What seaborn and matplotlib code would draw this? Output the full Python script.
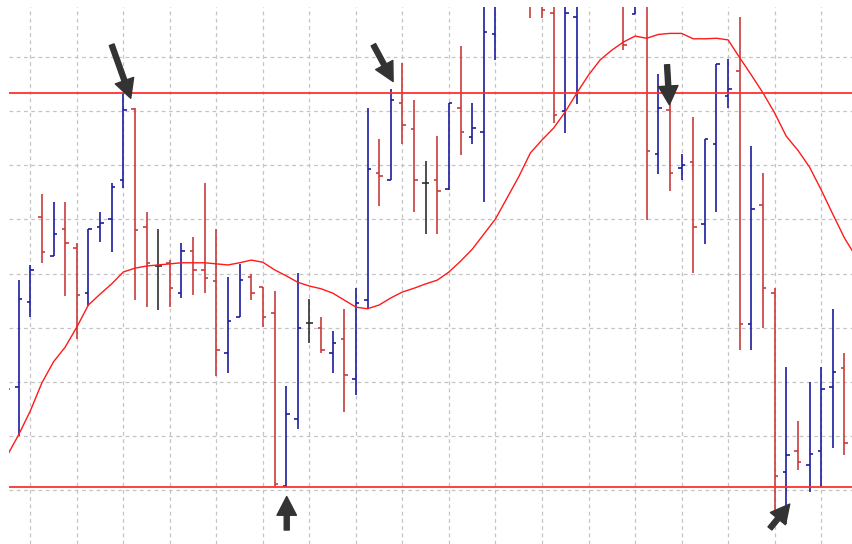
import matplotlib
matplotlib.use('Agg')
import numpy as np
import pandas as pd
import matplotlib.pyplot as plt
import seaborn as sns

sns.set_theme(style='white')

# OHLC bars (price units, one value per bar)
opens = [120.7, 119.1, 134.7, 150.5, 143.3, 148.2, 144.7, 136.5, 148.7, 150.0,
         157.3, 170.5, 148.7, 141.4, 142.0, 136.5, 144.2, 140.7, 138.7, 125.3,
         132.0, 139.3, 137.5, 132.7, 100.7, 113.1, 130.8, 129.9, 125.3, 128.0,
         120.5, 135.2, 158.6, 157.3, 171.5, 166.7, 156.7, 157.3, 155.6, 170.7,
         165.3, 166.1, 184.2, 192.5, 195.0, 193.0, 192.0, 188.1, 170.1, 187.4,
         196.0, 192.0, 197.0, 194.0, 188.0, 191.0, 162.1, 170.2, 159.5, 160.7,
         149.2, 164.0, 172.8, 177.4, 130.7, 152.7, 136.5, 103.3, 107.3, 104.6,
         107.3, 119.1, 122.6, 107.8]
highs = [121.8, 138.8, 141.6, 154.7, 153.3, 153.3, 145.6, 148.2, 151.4, 156.8,
         173.4, 170.7, 151.4, 148.2, 142.5, 145.6, 146.8, 156.8, 148.2, 139.4,
         141.8, 139.9, 137.5, 136.7, 119.2, 140.2, 135.3, 132.0, 129.4, 133.4,
         137.4, 170.7, 164.8, 174.2, 178.9, 172.1, 160.8, 165.4, 171.5, 182.1,
         171.5, 191.0, 193.0, 197.0, 198.0, 195.0, 194.0, 190.5, 191.0, 193.0,
         198.0, 199.0, 200.0, 196.0, 193.0, 193.0, 176.9, 171.5, 162.1, 168.9,
         164.8, 178.8, 179.6, 187.4, 163.6, 158.6, 137.4, 122.7, 112.8, 119.9,
         122.7, 133.4, 125.4, 110.0]
lows = [117.0, 110.0, 132.0, 141.9, 143.3, 135.9, 127.9, 134.0, 145.9, 144.0,
        155.8, 135.2, 133.8, 133.3, 133.8, 135.4, 136.0, 136.5, 121.1, 121.7,
        131.9, 135.1, 130.2, 100.6, 100.6, 111.2, 127.1, 125.3, 121.7, 114.5,
        117.6, 133.4, 152.5, 157.3, 164.0, 151.3, 147.3, 147.3, 155.5, 161.9,
        163.9, 153.2, 179.5, 190.5, 191.0, 187.2, 187.2, 167.9, 166.0, 171.3,
        191.0, 191.0, 192.0, 181.3, 188.0, 149.9, 158.5, 155.3, 157.3, 140.1,
        145.4, 151.3, 170.6, 125.8, 125.8, 129.9, 96.3, 93.8, 103.7, 99.7,
        100.6, 107.7, 106.5, 105.0]
closes = [118.7, 135.3, 140.7, 144.0, 147.4, 145.6, 136.0, 148.2, 149.3, 156.0,
          170.2, 148.1, 142.0, 141.4, 137.4, 144.2, 140.7, 139.1, 125.9, 131.2,
          138.8, 136.5, 131.9, 101.1, 114.0, 129.9, 130.8, 125.9, 127.2, 121.3,
          134.6, 159.3, 158.0, 172.1, 167.5, 157.3, 156.7, 155.3, 171.5, 166.1,
          166.9, 184.6, 191.5, 195.0, 193.0, 190.0, 188.7, 169.4, 188.1, 191.0,
          192.0, 197.0, 193.0, 182.3, 191.0, 162.7, 170.7, 158.6, 160.1, 148.7,
          164.8, 178.8, 174.1, 130.7, 151.9, 137.4, 102.5, 106.5, 105.2, 106.6,
          118.6, 121.8, 108.7, 109.0]

# moving average
ma = [106.3, 110.2, 114.6, 119.8, 123.7, 126.4, 130.1, 134.2, 136.2, 138.1,
      140.3, 141.0, 141.4, 141.6, 141.8, 142.0, 142.0, 142.0, 141.8, 141.6,
      142.0, 142.5, 142.1, 140.7, 139.6, 138.4, 137.7, 137.2, 136.4, 135.1,
      133.8, 133.5, 134.2, 135.5, 136.6, 137.3, 138.1, 138.8, 140.3, 142.3,
      144.5, 147.3, 150.1, 154.0, 157.9, 162.3, 164.7, 166.9, 169.9, 173.4,
      176.7, 179.5, 181.3, 182.8, 183.9, 183.5, 184.2, 184.4, 184.4, 183.4,
      183.4, 183.5, 183.2, 179.9, 176.7, 173.4, 169.7, 165.4, 162.8, 159.7,
      155.5, 151.0, 146.6, 143.1]

resistance = 173.4
support = 100.6

# arrows (bar, price): tail -> tip
arrow_tails = [(9.0, 182.3), (31.5, 182.3), (56.75, 178.6), (24.05, 92.6), (65.6, 92.9)]
arrow_tips = [(10.64, 172.4), (33.2, 175.5), (56.95, 171.2), (24.05, 98.8), (67.3, 97.4)]

df = pd.DataFrame({'open': opens, 'high': highs, 'low': lows,
                   'close': closes, 'ma': ma})
df['bar'] = np.arange(len(df))
df['color'] = np.select([df.close > df.open, df.close < df.open],
                        ['#1c1ca0', '#c83c3c'], '#303030')

fig = plt.figure(figsize=(8.53, 5.44), dpi=100)
ax = fig.add_axes([9 / 853, 0, 1 - 9 / 853, 1 - 6.5 / 544])

# grid
ax.set_xticks(range(2, 73, 4))
ax.set_yticks(range(100, 181, 10))
ax.grid(True, color='#c4c4c4', linestyle=(0, (3, 2.8)), linewidth=0.9)
ax.set_axisbelow(True)

# OHLC bars
tick = 0.3
ax.vlines(df.bar, df.low, df.high, colors=df.color, lw=1.2, zorder=2)
ax.hlines(df.open, df.bar - tick, df.bar, colors=df.color, lw=1.2, zorder=2)
ax.hlines(df.close, df.bar, df.bar + tick, colors=df.color, lw=1.2, zorder=2)

# moving average
sns.lineplot(data=df, x='bar', y='ma', color='#ff1a1a', lw=1.0, ax=ax, zorder=3)

# support / resistance
ax.axhline(resistance, color='#ff3030', lw=1.3, zorder=3)
ax.axhline(support, color='#ff3030', lw=1.3, zorder=3)

for tail, tip in zip(arrow_tails, arrow_tips):
    ax.annotate('', xy=tip, xytext=tail,
                arrowprops=dict(arrowstyle='simple,head_width=1.4,head_length=1.35,tail_width=0.36',
                                mutation_scale=10, color='#333333', shrinkA=0, shrinkB=0),
                zorder=4)

ax.set_xlim(0.172, 72.74)
ax.set_ylim(90.02, 189.37)
ax.set_xlabel('')
ax.set_ylabel('')
ax.tick_params(length=0, labelbottom=False, labelleft=False)
for s in ax.spines.values():
    s.set_visible(False)

plt.savefig('out.png', dpi=100)
